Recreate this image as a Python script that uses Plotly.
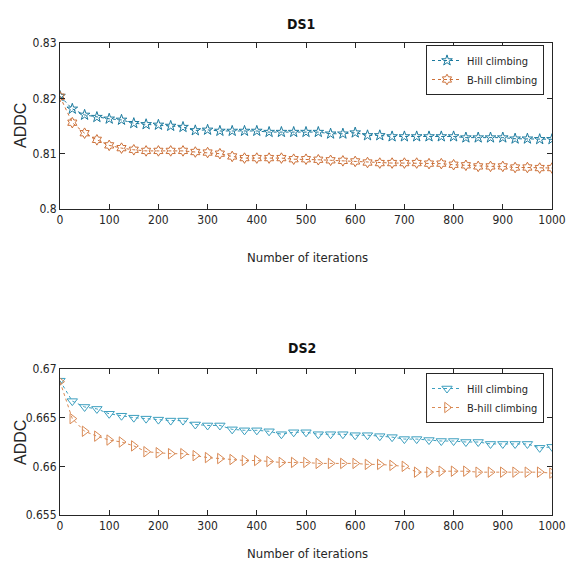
import plotly.graph_objects as go

iterations = list(range(0, 1001, 25))

ds1_hill = [0.8204, 0.8181, 0.8170, 0.8166, 0.8163, 0.8161, 0.8155, 0.8153, 0.8152, 0.8150,
            0.8148, 0.8142, 0.8143, 0.8141, 0.8141, 0.8141, 0.8141, 0.8139, 0.8139, 0.8139,
            0.8139, 0.8139, 0.8136, 0.8136, 0.8138, 0.8133, 0.8133, 0.8131, 0.8131, 0.8131,
            0.8131, 0.8131, 0.8131, 0.8129, 0.8129, 0.8129, 0.8129, 0.8127, 0.8127, 0.8126,
            0.8126]
ds1_bhill = [0.8203, 0.8156, 0.8137, 0.8125, 0.8115, 0.8110, 0.8107, 0.8105, 0.8105, 0.8105,
             0.8105, 0.8103, 0.8102, 0.8100, 0.8095, 0.8092, 0.8092, 0.8092, 0.8092, 0.8090,
             0.8090, 0.8089, 0.8088, 0.8087, 0.8086, 0.8084, 0.8083, 0.8083, 0.8083, 0.8083,
             0.8082, 0.8082, 0.8080, 0.8079, 0.8077, 0.8077, 0.8077, 0.8075, 0.8075, 0.8074,
             0.8074]
ds2_hill = [0.6688, 0.6667, 0.6661, 0.6659, 0.6654, 0.6652, 0.6650, 0.6649, 0.6648, 0.6647,
            0.6647, 0.6643, 0.6642, 0.6642, 0.6638, 0.6637, 0.6637, 0.6636, 0.6633, 0.6635,
            0.6635, 0.6633, 0.6633, 0.6633, 0.6632, 0.6632, 0.6631, 0.6630, 0.6628, 0.6628,
            0.6627, 0.6626, 0.6626, 0.6625, 0.6625, 0.6623, 0.6623, 0.6623, 0.6623, 0.6619,
            0.6620]
ds2_bhill = [0.6687, 0.6649, 0.6636, 0.6631, 0.6627, 0.6625, 0.6621, 0.6615, 0.6614, 0.6613,
             0.6613, 0.6611, 0.6609, 0.6608, 0.6607, 0.6606, 0.6606, 0.6605, 0.6604, 0.6604,
             0.6604, 0.6603, 0.6603, 0.6603, 0.6603, 0.6602, 0.6602, 0.6601, 0.6600, 0.6594,
             0.6594, 0.6595, 0.6595, 0.6595, 0.6594, 0.6594, 0.6594, 0.6594, 0.6594, 0.6594,
             0.6593]

series_names = ["Hill climbing", "B-hill climbing"]
titles = ["DS1", "DS2"]
x_title = "Number of iterations"
y_title = "ADDC"
x_ticks = [0, 100, 200, 300, 400, 500, 600, 700, 800, 900, 1000]
ds1_yticks = [0.80, 0.81, 0.82, 0.83]
ds1_ytext = ["0.8", "0.81", "0.82", "0.83"]
ds2_yticks = [0.655, 0.66, 0.665, 0.67]
ds2_ytext = ["0.655", "0.66", "0.665", "0.67"]

W, H = 568, 572
FONT = "DejaVu Sans Condensed, Liberation Sans Narrow, Arial Narrow, sans-serif"
BLUE1, ORANGE1 = "#1b7a9e", "#cc7038"
BLUE2, ORANGE2 = "#3c9fbf", "#d98a55"

def px_x(p):
    return p / W

def px_y(p):
    return 1 - p / H

fig = go.Figure()

fig.add_trace(go.Scatter(x=iterations, y=ds1_hill, name=series_names[0], mode="lines+markers",
                         line=dict(color=BLUE1, width=1, dash="dot"),
                         marker=dict(symbol="star-open", size=8, color=BLUE1, line=dict(width=1)),
                         xaxis="x", yaxis="y", legend="legend"))
fig.add_trace(go.Scatter(x=iterations, y=ds1_bhill, name=series_names[1], mode="lines+markers",
                         line=dict(color=ORANGE1, width=1, dash="dot"),
                         marker=dict(symbol="hexagram-open", size=8, color=ORANGE1, line=dict(width=1)),
                         xaxis="x", yaxis="y", legend="legend"))
fig.add_trace(go.Scatter(x=iterations, y=ds2_hill, name=series_names[0], mode="lines+markers",
                         line=dict(color=BLUE2, width=1, dash="dot"),
                         marker=dict(symbol="triangle-down-open", size=9, color=BLUE2, line=dict(width=1)),
                         xaxis="x2", yaxis="y2", legend="legend2"))
fig.add_trace(go.Scatter(x=iterations, y=ds2_bhill, name=series_names[1], mode="lines+markers",
                         line=dict(color=ORANGE2, width=1, dash="dot"),
                         marker=dict(symbol="triangle-right-open", size=9, color=ORANGE2, line=dict(width=1)),
                         xaxis="x2", yaxis="y2", legend="legend2"))

axis_common = dict(showgrid=False, zeroline=False, showline=True, linecolor="#262626", linewidth=1,
                   mirror="ticks", ticks="inside", ticklen=5, tickcolor="#262626", automargin=False,
                   tickfont=dict(family=FONT, size=12, color="#262626"))

xdom = [px_x(60), px_x(552)]
fig.update_layout(
    width=W, height=H, margin=dict(l=0, r=0, t=0, b=0, autoexpand=False),
    paper_bgcolor="white", plot_bgcolor="white",
    font=dict(family=FONT, color="#262626"),
    xaxis=dict(domain=xdom, range=[0, 1000], tickvals=x_ticks, anchor="y", **axis_common),
    yaxis=dict(domain=[px_y(209), px_y(43)], range=[0.80, 0.83], tickvals=ds1_yticks,
               ticktext=ds1_ytext, anchor="x", **axis_common),
    xaxis2=dict(domain=xdom, range=[0, 1000], tickvals=x_ticks, anchor="y2", **axis_common),
    yaxis2=dict(domain=[px_y(515), px_y(369)], range=[0.655, 0.67], tickvals=ds2_yticks,
                ticktext=ds2_ytext, anchor="x2", **axis_common),
    legend=dict(x=px_x(544), y=px_y(45), xanchor="right", yanchor="top",
                bgcolor="white", bordercolor="#262626", borderwidth=1,
                font=dict(family=FONT, size=11), tracegroupgap=0, itemwidth=30),
    legend2=dict(x=px_x(544), y=px_y(373), xanchor="right", yanchor="top",
                 bgcolor="white", bordercolor="#262626", borderwidth=1,
                 font=dict(family=FONT, size=11), tracegroupgap=0, itemwidth=30),
    showlegend=True,
)

annotations = []
for title, tx, ty in zip(titles, [301, 302], [24, 348]):
    annotations.append(dict(text="<b>" + title + "</b>", x=px_x(tx), y=px_y(ty), xref="paper", yref="paper",
                            xanchor="center", yanchor="middle", showarrow=False,
                            font=dict(family=FONT, size=14, color="#111111")))
for ty in [257, 553]:
    annotations.append(dict(text=x_title, x=px_x(307), y=px_y(ty), xref="paper", yref="paper",
                            xanchor="center", yanchor="middle", showarrow=False,
                            font=dict(family=FONT, size=13, color="#262626")))
for ty in [126, 443]:
    annotations.append(dict(text=y_title, x=px_x(20), y=px_y(ty), xref="paper", yref="paper",
                            xanchor="center", yanchor="middle", showarrow=False, textangle=-90,
                            font=dict(family="Liberation Sans, Arial, sans-serif", size=16, color="#262626")))
fig.update_layout(annotations=annotations)

fig.write_html("out.html", config={"displayModeBar": False},
               post_script="document.body.style.margin='0px';document.body.style.overflow='hidden';")
